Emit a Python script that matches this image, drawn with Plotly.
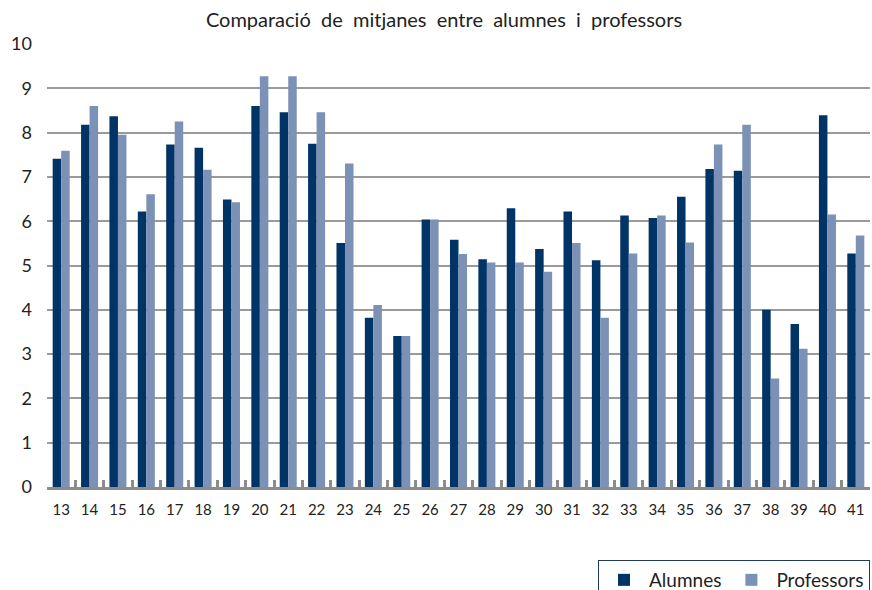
import plotly.graph_objects as go

categories = [str(c) for c in range(13, 42)]
alumnes = [7.41, 8.18, 8.37, 6.22, 7.73, 7.66, 6.49, 8.60, 8.46, 7.75,
           5.51, 3.82, 3.41, 6.04, 5.58, 5.14, 6.29, 5.37, 6.22, 5.12,
           6.13, 6.07, 6.55, 7.18, 7.14, 4.00, 3.68, 8.39, 5.27]
professors = [7.59, 8.60, 7.95, 6.61, 8.25, 7.16, 6.43, 9.27, 9.27, 8.46,
              7.30, 4.11, 3.41, 6.04, 5.26, 5.07, 5.07, 4.86, 5.51, 3.82,
              5.27, 6.13, 5.52, 7.73, 8.18, 2.45, 3.12, 6.15, 5.68]
y_ticks = list(range(0, 11))

FONT = "Lato, 'Open Sans', sans-serif"

fig = go.Figure()
fig.add_trace(go.Bar(x=categories, y=alumnes, name="Alumnes",
                     marker=dict(color="#003366", line=dict(width=0))))
fig.add_trace(go.Bar(x=categories, y=professors, name="Professors",
                     marker=dict(color="#7b91b6", line=dict(width=0))))

fig.update_layout(
    width=872, height=590,
    margin=dict(l=47, r=2, t=44, b=103, autoexpand=False),
    paper_bgcolor="white", plot_bgcolor="white",
    barmode="group", bargap=0.4, bargroupgap=0,
    font=dict(family=FONT, color="#222222"),
    title=dict(text="Comparació  de  mitjanes  entre  alumnes  i  professors",
               x=444 / 872, xanchor="center", y=1 - 20 / 590, yanchor="middle",
               font=dict(size=20, family=FONT, color="#222222")),
    legend=dict(orientation="h", x=1.0, xanchor="right", y=-(560 - 487) / 443,
                yanchor="top", bordercolor="#1f3a60", borderwidth=1,
                font=dict(size=19, family=FONT, color="#222222"),
                bgcolor="white", traceorder="normal", itemwidth=40,
                tracegroupgap=0),
    showlegend=True,
)
fig.update_xaxes(type="category", showgrid=False, showline=True,
                 linecolor="#8c8c8c", linewidth=3,
                 ticks="inside", tickson="boundaries", ticklen=7,
                 tickwidth=3, tickcolor="#8c8c8c", tickangle=0,
                 tickfont=dict(size=15, family=FONT, color="#222222"),
                 ticklabelstandoff=7, automargin=False)
fig.update_yaxes(range=[0, 10], tickvals=y_ticks,
                 ticktext=[str(v) for v in y_ticks],
                 showgrid=True, gridcolor="#9a9a9a", gridwidth=2,
                 zeroline=False, showline=False, automargin=False,
                 tickfont=dict(size=18, family=FONT, color="#222222"),
                 ticklabelstandoff=14)

fig.write_html("out.html",
               config={"displayModeBar": False},
               post_script="document.body.style.margin='0';document.body.style.overflow='hidden';")
